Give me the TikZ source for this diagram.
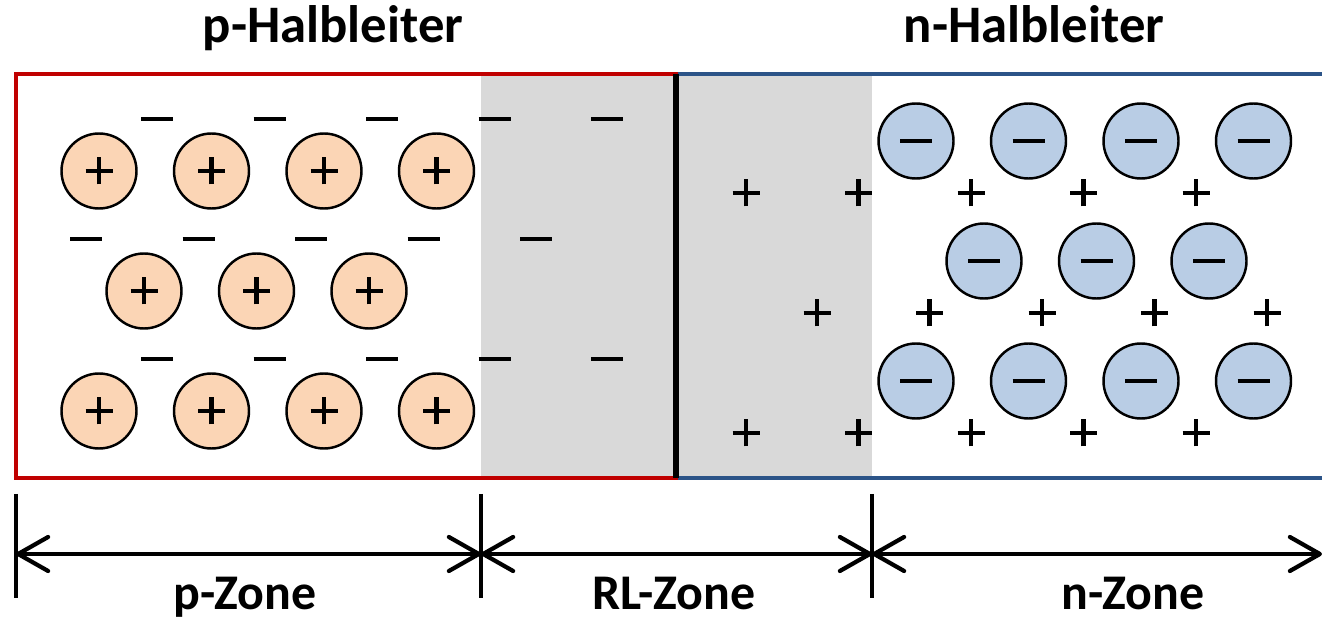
\documentclass[tikz,border=0pt]{standalone}
\usepackage{fontspec}
\setmainfont{Carlito}
\definecolor{pRot}{RGB}{192, 0, 0}
\definecolor{nBlau}{RGB}{44, 84, 136}
\definecolor{lochFarbe}{RGB}{251, 213, 181}
\definecolor{elektronFarbe}{RGB}{185, 205, 229}
\definecolor{rlGrau}{RGB}{217, 217, 217}
\usetikzlibrary{arrows.meta, positioning}
\tikzset{
    minuszeichen/.style={path picture={\draw[line width=#1] ([xshift=-1.6mm]path picture bounding box.center) -- ([xshift=1.6mm]path picture bounding box.center);}},
    pluszeichen/.style={path picture={\draw[line width=#1] ([xshift=-1.35mm]path picture bounding box.center) -- ([xshift=1.35mm]path picture bounding box.center) ([yshift=-1.35mm]path picture bounding box.center) -- ([yshift=1.35mm]path picture bounding box.center);}},
    loch/.style={circle, draw, line width=0.7pt, fill=lochFarbe, minimum size=7.5mm, inner sep=0pt, pluszeichen=1.25pt},
    elektron/.style={circle, draw, line width=0.7pt, fill=elektronFarbe, minimum size=7.5mm, inner sep=0pt, minuszeichen=1.4pt},
    akzeptor/.style={rectangle, minimum size=4mm, inner sep=0pt, minuszeichen=1.15pt},
    donator/.style={rectangle, minimum size=4mm, inner sep=0pt, pluszeichen=1.15pt},
    titel/.style={font=\bfseries\fontsize{15}{18}\selectfont, anchor=base},
    zone/.style={font=\bfseries\fontsize{14.2}{17}\selectfont, anchor=base, inner sep=0pt},
    rahmen/.style={line width=1.1pt},
    massstrich/.style={line width=1.1pt},
    masspfeil/.style={line width=1.2pt, {Straight Barb[round, length=3mm, width=3.4mm]}-{Straight Barb[round, length=3mm, width=3.4mm]}}
}
\begin{document}
\begin{tikzpicture}
    \useasboundingbox (0,0) rectangle (13.22,-6.21);

    % Raumladungszone
    \fill[rlGrau] (4.81,-0.74) rectangle (8.72,-4.78);

    % Halbleiter-Rahmen
    \draw[rahmen, pRot] (6.78,-0.74) -| (0.16,-4.78) -- (6.78,-4.78);
    \draw[rahmen, nBlau] (6.78,-0.74) -- (13.4,-0.74) (6.78,-4.78) -- (13.4,-4.78);
    \draw[line width=1.6pt] (6.76,-0.74) -- (6.76,-4.78);

    \node[titel] (ptitel) at (3.33,-0.43) {p-Halbleiter};
    \node[titel] (ntitel) at (10.34,-0.43) {n-Halbleiter};

    % Akzeptoren und Loecher (p-Seite)
    \foreach \i in {0,...,4} {
        \node[akzeptor] (a1\i) at (1.57+1.125*\i,-1.19) {};
        \node[akzeptor] (a2\i) at (0.86+1.125*\i,-2.39) {};
        \node[akzeptor] (a3\i) at (1.57+1.125*\i,-3.59) {};
    }
    \foreach \i in {0,...,3} {
        \node[loch] (l1\i) at (0.99+1.125*\i,-1.71) {};
        \node[loch] (l3\i) at (0.99+1.125*\i,-4.11) {};
    }
    \foreach \i in {0,...,2}
        \node[loch] (l2\i) at (1.44+1.125*\i,-2.91) {};

    % Donatoren und Elektronen (n-Seite)
    \foreach \i in {0,...,4} {
        \node[donator] (d1\i) at (7.46+1.125*\i,-1.93) {};
        \node[donator] (d2\i) at (8.17+1.125*\i,-3.13) {};
        \node[donator] (d3\i) at (7.46+1.125*\i,-4.33) {};
    }
    \foreach \i in {0,...,3} {
        \node[elektron] (e1\i) at (9.16+1.125*\i,-1.41) {};
        \node[elektron] (e3\i) at (9.16+1.125*\i,-3.81) {};
    }
    \foreach \i in {0,...,2}
        \node[elektron] (e2\i) at (9.84+1.125*\i,-2.61) {};

    % Bemassung
    \coordinate (mA) at (0.16,-5.54);
    \coordinate (mB) at (4.81,-5.54);
    \coordinate (mC) at (8.72,-5.54);
    \coordinate (mD) at (13.22,-5.54);
    \foreach \m in {mA,mB,mC}
        \draw[massstrich] ([yshift=6mm]\m) -- ([yshift=-4.4mm]\m);
    \draw[masspfeil] (mA) -- (mB);
    \draw[masspfeil] (mB) -- (mC);
    \draw[masspfeil] (mC) -- (mD);

    \node[zone] (pzone) at (2.45,-6.09) {p-Zone};
    \node[zone] (rlzone) at (6.74,-6.09) {RL-Zone};
    \node[zone] (nzone) at (11.33,-6.09) {n-Zone};
\end{tikzpicture}
\end{document}
